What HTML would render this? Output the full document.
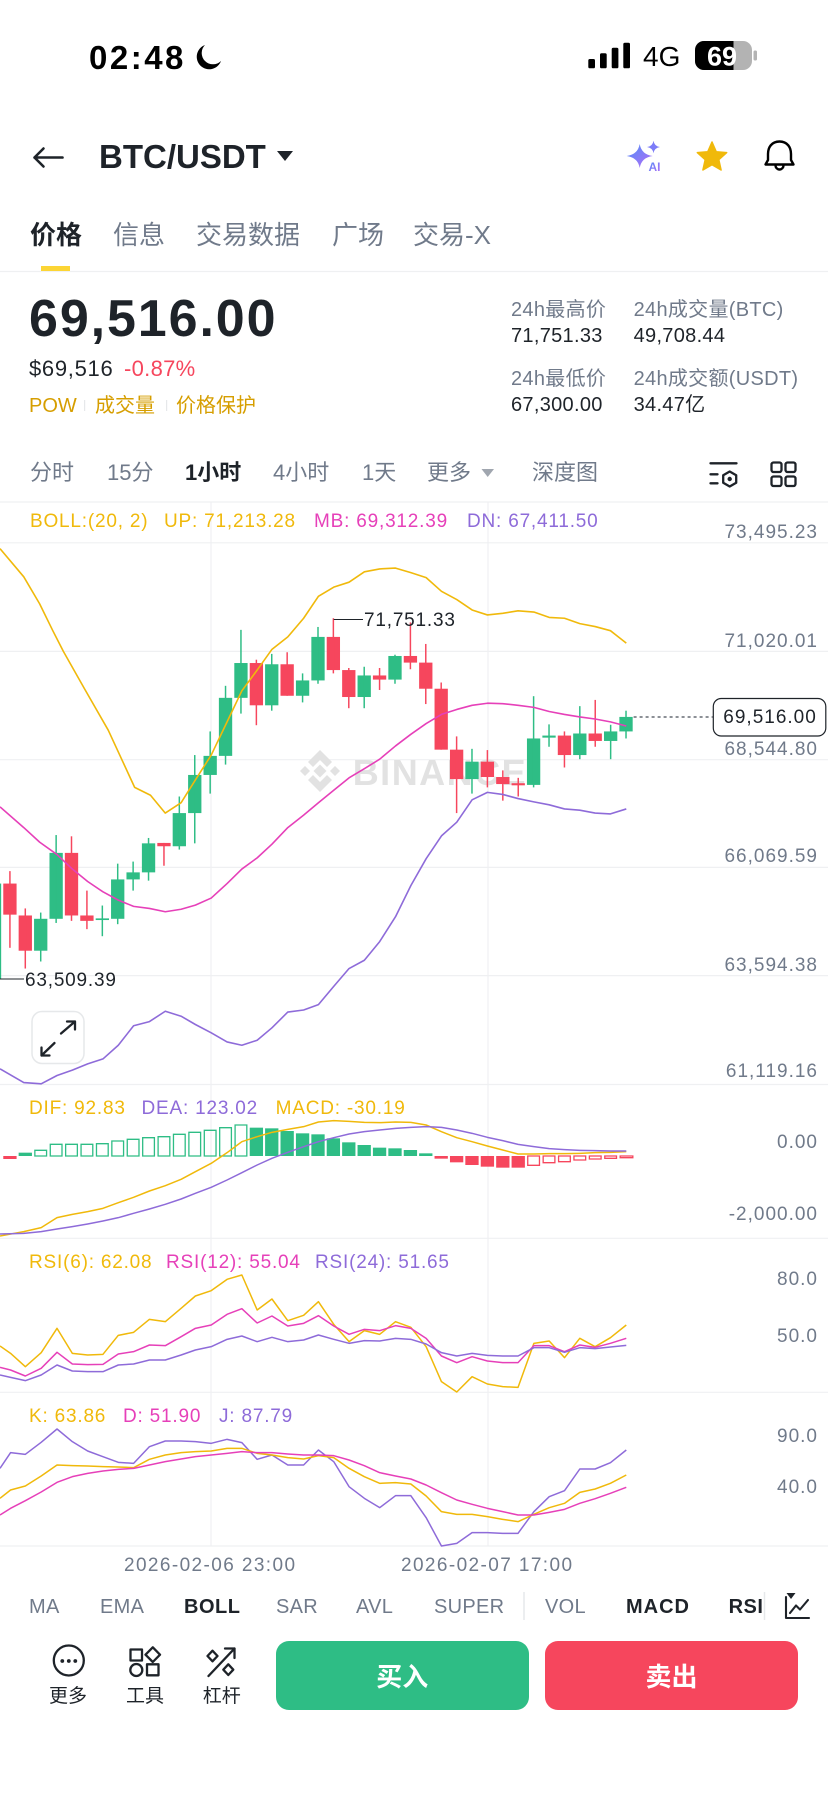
<!DOCTYPE html>
<html><head><meta charset="utf-8"><style>
html,body{margin:0;padding:0;background:#fff;}
body{width:828px;height:1795px;position:relative;overflow:hidden;font-family:"Liberation Sans","Noto Sans CJK SC",sans-serif;color:#1E2329;}
.t{position:absolute;white-space:nowrap;line-height:1;}
.g{color:#707A8A;}
.ax{position:absolute;right:10px;font-size:19px;letter-spacing:1px;color:#707A8A;line-height:1;white-space:nowrap;}
.lg{font-size:19px;letter-spacing:0.8px;}
.y{color:#F0B90B;}.m{color:#E640B9;}.p{color:#8E6BD9;}
.tab{font-size:26px;color:#707A8A;}
.iv{font-size:22px;color:#707A8A;}
.st{font-size:20px;letter-spacing:0.3px;}
.ind{font-size:20px;color:#707A8A;letter-spacing:0.3px;}
.indb{font-size:20px;font-weight:bold;color:#1E2329;letter-spacing:0.5px;}
.btn{position:absolute;border-radius:13px;color:#fff;font-size:26px;font-weight:600;display:flex;align-items:center;justify-content:center;}
.lbl{font-size:19px;color:#1E2329;}
svg{position:absolute;overflow:hidden;}
</style></head><body>

<!-- background grid + watermark -->
<svg style="left:0;top:0" width="828" height="1795" viewBox="0 0 828 1795">
<g stroke="#EFF0F2" stroke-width="1.2">
<line x1="0" y1="271.5" x2="828" y2="271.5"/>
<line x1="0" y1="502" x2="828" y2="502"/>
<line x1="0" y1="542.8" x2="828" y2="542.8"/>
<line x1="0" y1="651.4" x2="828" y2="651.4"/>
<line x1="0" y1="759.7" x2="828" y2="759.7"/>
<line x1="0" y1="867.4" x2="828" y2="867.4"/>
<line x1="0" y1="975.6" x2="828" y2="975.6"/>
<line x1="0" y1="1084.5" x2="828" y2="1084.5"/>
<line x1="0" y1="1238.3" x2="828" y2="1238.3"/>
<line x1="0" y1="1392.3" x2="828" y2="1392.3"/>
<line x1="0" y1="1546" x2="828" y2="1546"/>
<line x1="211" y1="502" x2="211" y2="1546"/>
<line x1="488" y1="502" x2="488" y2="1546"/>
</g>
<g fill="#E2E2E2" transform="translate(320 771)">
<polygon points="0,-6.5 6.5,0 0,6.5 -6.5,0"/>
<polygon points="-15,-5 -10,0 -15,5 -20,0"/>
<polygon points="15,-5 20,0 15,5 10,0"/>
<polygon points="0,-21 12,-9 7,-4 0,-11 -7,-4 -12,-9"/>
<polygon points="0,21 12,9 7,4 0,11 -7,4 -12,9"/>
</g>
</svg>
<div class="t" style="left:352.7px;top:755.4px;font-size:36px;font-weight:bold;color:#E2E2E2;letter-spacing:1.5px;">BINANCE</div>

<!-- main chart (distorted coords) -->
<svg style="left:0;top:440px" width="828" height="650" viewBox="0 0 1568 1568" preserveAspectRatio="none">
<g fill="#2EBD85">
<rect x="-23" y="1070" width="25.2" height="230"/>
<rect x="64.5" y="1155" width="25.2" height="77"/><rect x="75.7" y="1140" width="2.8" height="118"/>
<rect x="93.7" y="996" width="25.2" height="159"/><rect x="104.9" y="953" width="2.8" height="212"/>
<rect x="181.2" y="1154" width="25.2" height="4"/><rect x="192.4" y="1123" width="2.8" height="74"/>
<rect x="210.3" y="1060" width="25.2" height="95"/><rect x="221.5" y="1022" width="2.8" height="146"/>
<rect x="239.5" y="1043" width="25.2" height="17"/><rect x="250.7" y="1017" width="2.8" height="70"/>
<rect x="268.7" y="973" width="25.2" height="70"/><rect x="279.9" y="960" width="2.8" height="103"/>
<rect x="327.0" y="900" width="25.2" height="80"/><rect x="338.2" y="860" width="2.8" height="128"/>
<rect x="356.2" y="808" width="25.2" height="92"/><rect x="367.4" y="760" width="2.8" height="213"/>
<rect x="385.4" y="762" width="25.2" height="46"/><rect x="396.6" y="703" width="2.8" height="150"/>
<rect x="414.5" y="622" width="25.2" height="140"/><rect x="425.7" y="593" width="2.8" height="190"/>
<rect x="443.7" y="538" width="25.2" height="84"/><rect x="454.9" y="458" width="2.8" height="202"/>
<rect x="502.0" y="541" width="25.2" height="99"/><rect x="513.2" y="516" width="2.8" height="137"/>
<rect x="560.4" y="580" width="25.2" height="37"/><rect x="571.6" y="563" width="2.8" height="70"/>
<rect x="589.6" y="475" width="25.2" height="105"/><rect x="600.8" y="451" width="2.8" height="137"/>
<rect x="677.1" y="568" width="25.2" height="52"/><rect x="688.3" y="547" width="2.8" height="100"/>
<rect x="735.4" y="521" width="25.2" height="57"/><rect x="746.6" y="518" width="2.8" height="70"/>
<rect x="881.2" y="776" width="25.2" height="42"/><rect x="892.4" y="745" width="2.8" height="108"/>
<rect x="997.9" y="720" width="25.2" height="112"/><rect x="1009.1" y="618" width="2.8" height="220"/>
<rect x="1027.1" y="713" width="25.2" height="5"/><rect x="1038.3" y="686" width="2.8" height="54"/>
<rect x="1085.4" y="708" width="25.2" height="52"/><rect x="1096.6" y="642" width="2.8" height="128"/>
<rect x="1143.8" y="703" width="25.2" height="23"/><rect x="1155.0" y="687" width="2.8" height="83"/>
<rect x="1172.9" y="668" width="25.2" height="35"/><rect x="1184.1" y="653" width="2.8" height="67"/>
</g>
<g fill="#F6465D">
<rect x="6.2" y="1070" width="25.2" height="75"/><rect x="17.4" y="1040" width="2.8" height="185"/>
<rect x="35.3" y="1147" width="25.2" height="85"/><rect x="46.5" y="1130" width="2.8" height="145"/>
<rect x="122.8" y="996" width="25.2" height="151"/><rect x="134.0" y="956" width="2.8" height="204"/>
<rect x="152.0" y="1147" width="25.2" height="13"/><rect x="163.2" y="1087" width="2.8" height="93"/>
<rect x="297.9" y="972" width="25.2" height="8"/><rect x="309.1" y="972" width="2.8" height="55"/>
<rect x="472.9" y="538" width="25.2" height="102"/><rect x="484.1" y="530" width="2.8" height="158"/>
<rect x="531.2" y="541" width="25.2" height="76"/><rect x="542.4" y="512" width="2.8" height="105"/>
<rect x="618.7" y="475" width="25.2" height="80"/><rect x="629.9" y="430" width="2.8" height="133"/>
<rect x="647.9" y="555" width="25.2" height="65"/><rect x="659.1" y="550" width="2.8" height="97"/>
<rect x="706.2" y="568" width="25.2" height="10"/><rect x="717.4" y="550" width="2.8" height="53"/>
<rect x="764.6" y="521" width="25.2" height="16"/><rect x="775.8" y="440" width="2.8" height="113"/>
<rect x="793.7" y="537" width="25.2" height="63"/><rect x="804.9" y="492" width="2.8" height="145"/>
<rect x="822.9" y="600" width="25.2" height="147"/><rect x="834.1" y="585" width="2.8" height="162"/>
<rect x="852.1" y="747" width="25.2" height="71"/><rect x="863.3" y="715" width="2.8" height="185"/>
<rect x="910.4" y="776" width="25.2" height="37"/><rect x="921.6" y="748" width="2.8" height="90"/>
<rect x="939.6" y="813" width="25.2" height="17"/><rect x="950.8" y="797" width="2.8" height="73"/>
<rect x="968.8" y="828" width="25.2" height="5"/><rect x="980.0" y="815" width="2.8" height="45"/>
<rect x="1056.3" y="713" width="25.2" height="47"/><rect x="1067.5" y="703" width="2.8" height="87"/>
<rect x="1114.6" y="708" width="25.2" height="18"/><rect x="1125.8" y="627" width="2.8" height="113"/>
</g>
<polyline vector-effect="non-scaling-stroke" fill="none" stroke="#F0B90B" stroke-width="1.6" stroke-linejoin="round" points="0,262 45,330 75,395 100,460 120,510 160,600 205,700 255,838 285,857 313,900 343,875 370,820 400,760 430,680 458,605 487,555 515,505 545,475 575,430 603,377 632,355 661,343 690,318 719,311 749,309 778,320 807,332 836,365 865,385 894,410 923,422 952,418 981,412 1011,415 1040,428 1069,430 1098,443 1127,450 1156,460 1186,490"/>
<polyline vector-effect="non-scaling-stroke" fill="none" stroke="#E640B9" stroke-width="1.6" stroke-linejoin="round" points="0,885 45,935 75,970 108,1000 137,1035 166,1065 195,1090 224,1110 253,1125 283,1130 313,1138 343,1132 370,1122 400,1105 430,1070 458,1035 487,1008 515,975 545,935 575,905 603,875 632,845 661,815 690,793 719,770 749,738 778,710 807,684 836,662 865,650 894,640 923,635 952,636 981,640 1011,645 1040,655 1069,662 1098,668 1127,673 1156,680 1186,690"/>
<polyline vector-effect="non-scaling-stroke" fill="none" stroke="#8E6BD9" stroke-width="1.6" stroke-linejoin="round" points="0,1517 45,1550 78,1553 108,1533 137,1520 166,1505 195,1493 224,1460 253,1413 283,1403 313,1378 343,1390 370,1410 400,1430 430,1452 458,1460 487,1448 515,1418 545,1380 575,1375 603,1362 632,1318 661,1275 690,1255 719,1210 749,1150 778,1075 807,1010 836,955 865,922 894,868 923,850 952,855 981,865 1011,873 1040,880 1069,890 1098,893 1127,900 1156,902 1186,890"/>
</svg>

<!-- indicators (distorted coords) -->
<svg style="left:0;top:1080px" width="828" height="470" viewBox="0 0 1568 1410" preserveAspectRatio="none">
<g fill="none" stroke="#2EBD85">
<rect vector-effect="non-scaling-stroke" stroke-width="1.3" x="66" y="211" width="22.2" height="17"/>
<rect vector-effect="non-scaling-stroke" stroke-width="1.3" x="95.2" y="193" width="22.2" height="35"/>
<rect vector-effect="non-scaling-stroke" stroke-width="1.3" x="124.3" y="193" width="22.2" height="35"/>
<rect vector-effect="non-scaling-stroke" stroke-width="1.3" x="153.5" y="193" width="22.2" height="35"/>
<rect vector-effect="non-scaling-stroke" stroke-width="1.3" x="182.7" y="191" width="22.2" height="37"/>
<rect vector-effect="non-scaling-stroke" stroke-width="1.3" x="211.8" y="183" width="22.2" height="45"/>
<rect vector-effect="non-scaling-stroke" stroke-width="1.3" x="241" y="178" width="22.2" height="50"/>
<rect vector-effect="non-scaling-stroke" stroke-width="1.3" x="270.2" y="173" width="22.2" height="55"/>
<rect vector-effect="non-scaling-stroke" stroke-width="1.3" x="299.4" y="170" width="22.2" height="58"/>
<rect vector-effect="non-scaling-stroke" stroke-width="1.3" x="328.5" y="163" width="22.2" height="65"/>
<rect vector-effect="non-scaling-stroke" stroke-width="1.3" x="357.7" y="157" width="22.2" height="71"/>
<rect vector-effect="non-scaling-stroke" stroke-width="1.3" x="386.9" y="151" width="22.2" height="77"/>
<rect vector-effect="non-scaling-stroke" stroke-width="1.3" x="416" y="143" width="22.2" height="85"/>
<rect vector-effect="non-scaling-stroke" stroke-width="1.3" x="445.2" y="135" width="22.2" height="93"/>
</g>
<g fill="#2EBD85">
<rect x="35.3" y="218" width="25.2" height="10"/>
<rect x="472.9" y="143" width="25.2" height="85"/>
<rect x="502.0" y="145" width="25.2" height="83"/>
<rect x="531.2" y="153" width="25.2" height="75"/>
<rect x="560.4" y="160" width="25.2" height="68"/>
<rect x="589.6" y="163" width="25.2" height="65"/>
<rect x="618.7" y="175" width="25.2" height="53"/>
<rect x="647.9" y="187" width="25.2" height="41"/>
<rect x="677.1" y="195" width="25.2" height="33"/>
<rect x="706.2" y="203" width="25.2" height="25"/>
<rect x="735.4" y="205" width="25.2" height="23"/>
<rect x="764.6" y="210" width="25.2" height="18"/>
<rect x="793.7" y="220" width="25.2" height="8"/>
</g>
<g fill="#F6465D">
<rect x="6.2" y="228" width="25.2" height="9"/>
<rect x="822.9" y="228" width="25.2" height="8"/>
<rect x="852.1" y="228" width="25.2" height="19"/>
<rect x="881.2" y="228" width="25.2" height="27"/>
<rect x="910.4" y="228" width="25.2" height="32"/>
<rect x="939.6" y="228" width="25.2" height="35"/>
<rect x="968.8" y="228" width="25.2" height="35"/>
</g>
<g fill="none" stroke="#F6465D">
<rect vector-effect="non-scaling-stroke" stroke-width="1.3" x="999.4" y="228" width="22.2" height="28"/>
<rect vector-effect="non-scaling-stroke" stroke-width="1.3" x="1028.6" y="228" width="22.2" height="20"/>
<rect vector-effect="non-scaling-stroke" stroke-width="1.3" x="1057.8" y="228" width="22.2" height="17"/>
<rect vector-effect="non-scaling-stroke" stroke-width="1.3" x="1086.9" y="228" width="22.2" height="12"/>
<rect vector-effect="non-scaling-stroke" stroke-width="1.3" x="1116.1" y="228" width="22.2" height="9"/>
<rect vector-effect="non-scaling-stroke" stroke-width="1.3" x="1145.3" y="228" width="22.2" height="7"/>
<rect vector-effect="non-scaling-stroke" stroke-width="1.3" x="1174.4" y="228" width="24" height="5"/>
</g>
<!-- MACD lines -->
<polyline vector-effect="non-scaling-stroke" fill="none" stroke="#F0B90B" stroke-width="1.5" stroke-linejoin="round" points="0,468 45,455 78,443 108,413 137,403 166,395 195,385 224,368 253,352 283,333 313,317 343,298 370,275 400,250 430,218 458,185 487,170 515,157 545,148 575,140 603,126 632,122 661,124 690,127 719,128 749,126 778,127 807,135 836,155 865,173 894,185 923,198 952,210 981,222 1011,222 1040,221 1069,221 1098,220 1127,218 1156,217 1186,215"/>
<polyline vector-effect="non-scaling-stroke" fill="none" stroke="#8E6BD9" stroke-width="1.5" stroke-linejoin="round" points="0,462 45,460 78,455 108,447 137,440 166,432 195,423 224,413 253,400 283,387 313,373 343,357 370,340 400,322 430,300 458,278 487,255 515,235 545,217 575,200 603,185 632,173 661,162 690,155 719,150 749,145 778,142 807,140 836,142 865,150 894,160 923,172 952,182 981,193 1011,200 1040,206 1069,209 1098,211 1127,212 1156,213 1186,213"/>
<!-- RSI -->
<polyline vector-effect="non-scaling-stroke" fill="none" stroke="#F0B90B" stroke-width="1.5" stroke-linejoin="round" points="0,798 20,820 48,860 78,818 108,745 137,820 166,825 195,823 224,766 253,757 283,718 313,725 343,685 370,648 400,632 430,598 458,585 487,690 515,657 545,722 575,706 603,665 632,733 661,785 690,752 719,763 749,725 778,742 807,800 836,905 865,936 894,890 923,912 952,920 981,922 1011,790 1040,783 1069,833 1098,775 1127,800 1156,773 1186,735"/>
<polyline vector-effect="non-scaling-stroke" fill="none" stroke="#E640B9" stroke-width="1.5" stroke-linejoin="round" points="0,862 20,870 48,888 78,865 108,817 137,852 166,854 195,853 224,822 253,815 283,795 313,797 343,770 370,745 400,735 430,703 458,686 487,729 515,708 545,738 575,730 603,707 632,738 661,763 690,748 719,752 749,737 778,745 807,775 836,828 865,848 894,830 923,843 952,848 981,848 1011,797 1040,797 1069,815 1098,795 1127,802 1156,790 1186,775"/>
<polyline vector-effect="non-scaling-stroke" fill="none" stroke="#8E6BD9" stroke-width="1.5" stroke-linejoin="round" points="0,885 20,892 48,902 78,885 108,855 137,873 166,875 195,875 224,855 253,852 283,840 313,840 343,825 370,810 400,800 430,778 458,768 487,785 515,772 545,785 575,780 603,765 632,778 661,790 690,782 719,783 749,775 778,778 807,792 836,818 865,828 894,820 923,826 952,828 981,828 1011,803 1040,803 1069,817 1098,803 1127,806 1156,801 1186,796"/>
<!-- KDJ -->
<polyline vector-effect="non-scaling-stroke" fill="none" stroke="#8E6BD9" stroke-width="1.5" stroke-linejoin="round" points="0,1165 20,1118 48,1123 78,1087 108,1047 137,1085 166,1113 195,1130 224,1147 253,1150 283,1100 313,1083 343,1083 370,1085 400,1090 430,1078 458,1088 487,1138 515,1125 545,1155 575,1155 603,1110 632,1145 661,1220 690,1255 719,1283 749,1247 778,1247 807,1313 836,1398 865,1390 894,1358 923,1358 952,1360 981,1360 1011,1295 1040,1250 1069,1232 1098,1167 1127,1167 1156,1148 1186,1110"/>
<polyline vector-effect="non-scaling-stroke" fill="none" stroke="#F0B90B" stroke-width="1.5" stroke-linejoin="round" points="0,1255 20,1230 48,1218 78,1188 108,1155 137,1157 166,1158 195,1160 224,1161 253,1163 283,1138 313,1125 343,1118 370,1115 400,1113 430,1105 458,1105 487,1120 515,1125 545,1133 575,1137 603,1127 632,1133 661,1165 690,1190 719,1210 749,1208 778,1212 807,1248 836,1295 865,1303 894,1303 923,1310 952,1318 981,1325 1011,1303 1040,1283 1069,1270 1098,1237 1127,1227 1156,1210 1186,1185"/>
<polyline vector-effect="non-scaling-stroke" fill="none" stroke="#E640B9" stroke-width="1.5" stroke-linejoin="round" points="0,1305 20,1285 48,1262 78,1236 108,1207 137,1190 166,1180 195,1173 224,1168 253,1165 283,1155 313,1145 343,1137 370,1130 400,1125 430,1120 458,1115 487,1118 515,1118 545,1122 575,1125 603,1125 632,1127 661,1140 690,1157 719,1178 749,1188 778,1197 807,1215 836,1238 865,1260 894,1273 923,1285 952,1295 981,1305 1011,1305 1040,1297 1069,1288 1098,1270 1127,1256 1156,1240 1186,1222"/>
</svg>

<!-- foreground icons & markers -->
<svg style="left:0;top:0" width="828" height="1795" viewBox="0 0 828 1795">
<defs>
<linearGradient id="ai" x1="0" y1="0" x2="1" y2="1"><stop offset="0" stop-color="#4F8EF7"/><stop offset="1" stop-color="#B66CF7"/></linearGradient>
<clipPath id="bat"><rect x="695" y="41" width="57" height="29" rx="9"/></clipPath>
</defs>
<!-- moon -->
<path d="M205,45 A12.5,12.5 0 1 0 221,61 A10.5,10.5 0 0 1 205,45 Z" fill="#000"/>
<!-- signal -->
<g fill="#000">
<rect x="588.3" y="59" width="6.7" height="9.3" rx="1.6"/>
<rect x="600" y="53.3" width="6.7" height="15" rx="1.6"/>
<rect x="611.7" y="47.7" width="6.7" height="20.6" rx="1.6"/>
<rect x="623.3" y="42.7" width="6.7" height="25.6" rx="1.6"/>
</g>
<!-- battery -->
<g clip-path="url(#bat)"><rect x="695" y="41" width="57" height="29" fill="#B3B3B3"/><rect x="695" y="41" width="38.5" height="29" fill="#000"/></g>
<rect x="753.5" y="50.5" width="3.5" height="10" rx="1.5" fill="#B3B3B3"/>
<text x="722" y="65.5" text-anchor="middle" font-family="Liberation Sans" font-weight="bold" font-size="27" fill="#fff">69</text>
<!-- back arrow -->
<path d="M62.5,157.5 H34.5 M43.5,148.5 L34.5,157.5 L43.5,166.5" fill="none" stroke="#1E2329" stroke-width="2.6" stroke-linecap="round" stroke-linejoin="round"/>
<polygon points="277,151 293,151 285,161" fill="#1E2329"/>
<!-- AI icon -->
<path d="M639.7,144 Q641.5,154.5 652.7,156 Q641.5,157.5 639.7,168 Q637.9,157.5 626.7,156 Q637.9,154.5 639.7,144 Z" fill="url(#ai)"/>
<path d="M653.5,140.7 Q654.3,146.2 660,147 Q654.3,147.8 653.5,153.3 Q652.7,147.8 647,147 Q652.7,146.2 653.5,140.7 Z" fill="#7C7CF8"/>
<text x="654.5" y="171" text-anchor="middle" font-family="Liberation Sans" font-weight="bold" font-size="12" fill="url(#ai)">AI</text>
<!-- star -->
<polygon points="712,142 716.2,151.7 726.7,152.6 718.8,159.7 721.1,170 712,164.7 702.9,170 705.2,159.7 697.3,152.6 707.8,151.7" fill="#F0B90B" stroke="#F0B90B" stroke-width="1.5" stroke-linejoin="round"/>
<!-- bell -->
<path d="M779.5,141.5 C771.5,141.5 768,147.5 768,154 V160 L765.5,164.5 H793.5 L791,160 V154 C791,147.5 787.5,141.5 779.5,141.5 Z M775.5,165.5 A4,4 0 0 0 783.5,165.5" fill="none" stroke="#000" stroke-width="2.4" stroke-linejoin="round"/>
<!-- tab underline -->
<rect x="41" y="266" width="29" height="5" fill="#FCD535"/>
<!-- separators POW -->
<rect x="84" y="400" width="1.2" height="11" fill="#E6E8EA"/>
<rect x="166" y="400" width="1.2" height="11" fill="#E6E8EA"/>
<!-- more triangle -->
<polygon points="481.5,469 494,469 487.7,477" fill="#A0A6AF"/>
<!-- interval icons -->
<g fill="none" stroke="#1E2329" stroke-width="2.3" stroke-linecap="round">
<line x1="710.5" y1="463.3" x2="736.5" y2="463.3"/>
<line x1="710.5" y1="474.3" x2="717.5" y2="474.3"/>
<line x1="710.5" y1="483.3" x2="717.5" y2="483.3"/>
<polygon points="729.7,471.5 736.2,475.2 736.2,482.8 729.7,486.5 723.2,482.8 723.2,475.2" stroke-linejoin="round"/>
<rect x="771.5" y="462.5" width="10" height="9.5" rx="2"/>
<rect x="785.5" y="462.5" width="10" height="9.5" rx="2"/>
<rect x="771.5" y="476.5" width="10" height="9.5" rx="2"/>
<rect x="785.5" y="476.5" width="10" height="9.5" rx="2"/>
</g>
<circle cx="729.7" cy="479" r="2.2" fill="#1E2329"/>
<!-- high / low markers -->
<line x1="333.7" y1="619.5" x2="363" y2="619.5" stroke="#1E2329" stroke-width="1"/>
<line x1="0" y1="979" x2="24" y2="979" stroke="#1E2329" stroke-width="1"/>
<!-- current price -->
<line x1="633.6" y1="717" x2="712.8" y2="717" stroke="#474D57" stroke-width="1.2" stroke-dasharray="3 3"/>
<rect x="713.3" y="698.5" width="112.5" height="37.5" rx="8" fill="#fff" stroke="#1E2329" stroke-width="1.2"/>
<!-- expand button -->
<rect x="32" y="1011.5" width="52" height="52" rx="10" fill="#fff" stroke="#E6E8EA" stroke-width="1.5"/>
<g fill="none" stroke="#1E2329" stroke-width="2.3" stroke-linecap="round" stroke-linejoin="round">
<path d="M61,1033.5 L75,1021.5 M67,1021.5 H75 V1029.5"/>
<path d="M54.5,1043 L41.5,1055.5 M41.5,1047.5 V1055.5 H49.5"/>
</g>
<!-- indicator dividers -->
<line x1="524" y1="1592" x2="524" y2="1620" stroke="#E6E8EA" stroke-width="1.5"/>
<line x1="764.5" y1="1592" x2="764.5" y2="1620" stroke="#E6E8EA" stroke-width="1.5"/>
<!-- chart icon -->
<g fill="none" stroke="#1E2329" stroke-width="2.1" stroke-linecap="round" stroke-linejoin="round">
<path d="M786,1597 V1618 H809"/>
<path d="M790,1613 L796,1605.5 L800,1609.5 L808,1600"/>
</g>
<polygon points="786.5,1593 795.5,1593 791,1599" fill="#1E2329"/>
<!-- bottom icons -->
<g fill="none" stroke="#1E2329" stroke-width="2.3" stroke-linejoin="round" stroke-linecap="round">
<circle cx="68.8" cy="1660.5" r="15"/>
<rect x="130.5" y="1649.5" width="11.5" height="11"/>
<polygon points="152.8,1647.3 160,1654.7 152.8,1662 145.5,1654.7"/>
<circle cx="136.3" cy="1670" r="6"/>
<rect x="147" y="1664.3" width="11.5" height="11"/>
<polygon points="212.5,1650.7 217.5,1656 212.5,1661.3 207.5,1656"/>
<polygon points="228.3,1664.3 233.3,1669.7 228.3,1675 223.3,1669.7"/>
<path d="M208.5,1676 L234.5,1648.5 M225,1648.5 H234.5 V1658"/>
</g>
<g fill="#1E2329">
<circle cx="62.3" cy="1661" r="1.9"/><circle cx="68.8" cy="1661" r="1.9"/><circle cx="75.3" cy="1661" r="1.9"/>
</g>
</svg>

<!-- status bar -->
<div class="t" style="left:89px;top:40.8px;font-size:33px;font-weight:bold;letter-spacing:2.5px;color:#000;">02:48</div>
<div class="t" style="left:643px;top:43px;font-size:28px;color:#000;">4G</div>

<!-- header -->
<div class="t" style="left:99px;top:140.3px;font-size:33px;font-weight:bold;">BTC/USDT</div>

<!-- tabs -->
<div class="t tab" style="left:30px;top:222px;color:#1E2329;font-weight:600;">价格</div>
<div class="t tab" style="left:113px;top:222px;">信息</div>
<div class="t tab" style="left:196px;top:222px;">交易数据</div>
<div class="t tab" style="left:332px;top:222px;">广场</div>
<div class="t tab" style="left:413px;top:222px;">交易-X</div>

<!-- price -->
<div class="t" style="left:29px;top:293px;font-size:52px;font-weight:bold;letter-spacing:1.9px;">69,516.00</div>
<div class="t" style="left:29px;top:357.7px;font-size:22px;letter-spacing:0.7px;">$69,516</div>
<div class="t" style="left:124px;top:357.7px;font-size:22px;letter-spacing:0.3px;color:#F6465D;">-0.87%</div>
<div class="t" style="left:29px;top:395.5px;font-size:20px;color:#D69E00;">POW</div>
<div class="t" style="left:95px;top:395.5px;font-size:20px;color:#D69E00;">成交量</div>
<div class="t" style="left:176px;top:395.5px;font-size:20px;color:#D69E00;">价格保护</div>

<div class="t st g" style="left:511px;top:300.2px;">24h最高价</div>
<div class="t st g" style="left:633.6px;top:300.2px;">24h成交量(BTC)</div>
<div class="t st" style="left:511px;top:325.7px;">71,751.33</div>
<div class="t st" style="left:633.6px;top:325.7px;">49,708.44</div>
<div class="t st g" style="left:511px;top:368.7px;">24h最低价</div>
<div class="t st g" style="left:633.6px;top:368.7px;">24h成交额(USDT)</div>
<div class="t st" style="left:511px;top:395.2px;">67,300.00</div>
<div class="t st" style="left:633.6px;top:395.2px;">34.47亿</div>

<!-- intervals -->
<div class="t iv" style="left:30px;top:462.2px;">分时</div>
<div class="t iv" style="left:107px;top:462.2px;">15分</div>
<div class="t iv" style="left:185px;top:462.2px;color:#1E2329;font-weight:bold;">1小时</div>
<div class="t iv" style="left:273px;top:462.2px;">4小时</div>
<div class="t iv" style="left:362px;top:462.2px;">1天</div>
<div class="t iv" style="left:427px;top:462.2px;">更多</div>
<div class="t iv" style="left:532px;top:462.2px;">深度图</div>

<!-- BOLL legend -->
<div class="t lg y" style="left:30px;top:511.7px;">BOLL:(20, 2)</div>
<div class="t lg y" style="left:164px;top:511.7px;">UP: 71,213.28</div>
<div class="t lg m" style="left:314px;top:511.7px;">MB: 69,312.39</div>
<div class="t lg p" style="left:467px;top:511.7px;">DN: 67,411.50</div>

<!-- price axis -->
<div class="ax" style="top:522.7px;">73,495.23</div>
<div class="ax" style="top:631.7px;">71,020.01</div>
<div class="ax" style="top:739.7px;">68,544.80</div>
<div class="ax" style="top:847.4px;">66,069.59</div>
<div class="ax" style="top:955.7px;">63,594.38</div>
<div class="ax" style="top:1061.7px;">61,119.16</div>

<!-- markers text -->
<div class="t lg" style="left:364px;top:611px;">71,751.33</div>
<div class="t lg" style="left:25px;top:970.7px;">63,509.39</div>
<div class="t" style="left:713.3px;width:113.5px;text-align:center;top:707.7px;font-size:19px;letter-spacing:1px;">69,516.00</div>

<!-- MACD legend -->
<div class="t lg y" style="left:29px;top:1099px;">DIF: 92.83</div>
<div class="t lg p" style="left:141.5px;top:1099px;">DEA: 123.02</div>
<div class="t lg y" style="left:275.6px;top:1099px;">MACD: -30.19</div>
<div class="ax" style="top:1133.4px;">0.00</div>
<div class="ax" style="top:1205px;">-2,000.00</div>

<!-- RSI legend -->
<div class="t lg y" style="left:29px;top:1253.4px;">RSI(6): 62.08</div>
<div class="t lg m" style="left:166px;top:1253.4px;">RSI(12): 55.04</div>
<div class="t lg p" style="left:315px;top:1253.4px;">RSI(24): 51.65</div>
<div class="ax" style="top:1270px;">80.0</div>
<div class="ax" style="top:1326.7px;">50.0</div>

<!-- KDJ legend -->
<div class="t lg y" style="left:29px;top:1407.4px;">K: 63.86</div>
<div class="t lg m" style="left:123px;top:1407.4px;">D: 51.90</div>
<div class="t lg p" style="left:219px;top:1407.4px;">J: 87.79</div>
<div class="ax" style="top:1426.7px;">90.0</div>
<div class="ax" style="top:1478px;">40.0</div>

<!-- dates -->
<div class="t g" style="left:124px;top:1555.7px;font-size:19px;letter-spacing:1.4px;">2026-02-06 23:00</div>
<div class="t g" style="left:401px;top:1555.7px;font-size:19px;letter-spacing:1.4px;">2026-02-07 17:00</div>

<!-- indicator row -->
<div class="t ind" style="left:29px;top:1596.9px;">MA</div>
<div class="t ind" style="left:100px;top:1596.9px;">EMA</div>
<div class="t indb" style="left:184px;top:1596.9px;">BOLL</div>
<div class="t ind" style="left:276px;top:1596.9px;">SAR</div>
<div class="t ind" style="left:356px;top:1596.9px;">AVL</div>
<div class="t ind" style="left:434px;top:1596.9px;">SUPER</div>
<div class="t ind" style="left:545px;top:1596.9px;">VOL</div>
<div class="t indb" style="left:626px;top:1596.9px;letter-spacing:1px;">MACD</div>
<div class="t indb" style="left:728.6px;top:1596.9px;">RSI</div>

<!-- bottom bar -->
<div class="t lbl" style="left:49px;top:1686.7px;">更多</div>
<div class="t lbl" style="left:126px;top:1686.7px;">工具</div>
<div class="t lbl" style="left:202.7px;top:1686.7px;">杠杆</div>
<div class="btn" style="left:275.6px;top:1641px;width:253.4px;height:68.5px;background:#2EBD85;">买入</div>
<div class="btn" style="left:545px;top:1641px;width:253px;height:68.5px;background:#F6465D;">卖出</div>

</body></html>
